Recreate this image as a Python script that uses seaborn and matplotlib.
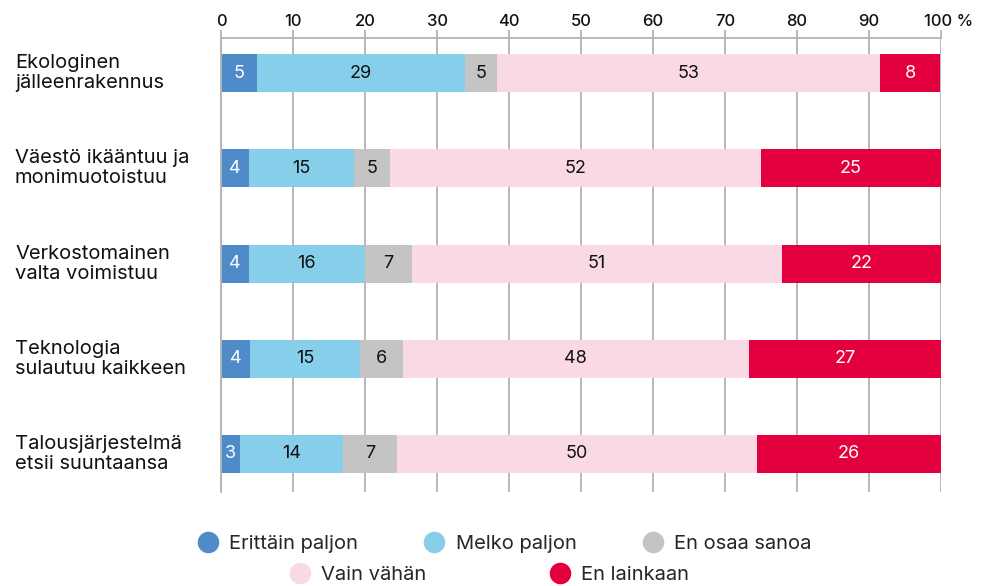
import matplotlib.pyplot as plt
import matplotlib.transforms as mtrans
from matplotlib.lines import Line2D
import pandas as pd
import seaborn as sns

sns.set_style("white")
plt.rcParams['font.family'] = ['Inter', 'DejaVu Sans']

kategoriat = ["Ekologinen\njälleenrakennus",
              "Väestö ikääntuu ja\nmonimuotoistuu",
              "Verkostomainen\nvalta voimistuu",
              "Teknologia\nsulautuu kaikkeen",
              "Talousjärjestelmä\netsii suuntaansa"]
sarjat = ["Erittäin paljon", "Melko paljon", "En osaa sanoa", "Vain vähän", "En lainkaan"]

# bar lengths (%)
erittain_paljon = [5.0, 3.85, 3.85, 4.0, 2.64]
melko_paljon = [28.85, 14.58, 16.1, 15.28, 14.3]
en_osaa_sanoa = [4.44, 5.0, 6.53, 5.97, 7.5]
vain_vahan = [53.3, 51.5, 51.4, 48.06, 50.0]
en_lainkaan = [8.33, 25.0, 22.08, 26.67, 25.56]

# printed numbers inside the bars
lab_erittain = [5, 4, 4, 4, 3]
lab_melko = [29, 15, 16, 15, 14]
lab_en_osaa = [5, 5, 7, 6, 7]
lab_vain = [53, 52, 51, 48, 50]
lab_lainkaan = [8, 25, 22, 27, 26]

xticks = [0, 10, 20, 30, 40, 50, 60, 70, 80, 90, 100]
xtick_labels = ["0", "10", "20", "30", "40", "50", "60", "70", "80", "90", "100 %"]

cores = {"Erittäin paljon": "#4f8bc9", "Melko paljon": "#87ceeb", "En osaa sanoa": "#c4c4c4",
         "Vain vähän": "#f9d9e3", "En lainkaan": "#e4003f"}
cor_texto = {"Erittäin paljon": "white", "Melko paljon": "#111111", "En osaa sanoa": "#111111",
             "Vain vähän": "#111111", "En lainkaan": "white"}

df = pd.DataFrame({
    "Erittäin paljon": erittain_paljon,
    "Melko paljon": melko_paljon,
    "En osaa sanoa": en_osaa_sanoa,
    "Vain vähän": vain_vahan,
    "En lainkaan": en_lainkaan,
}, index=kategoriat)
df_lab = pd.DataFrame({
    "Erittäin paljon": lab_erittain,
    "Melko paljon": lab_melko,
    "En osaa sanoa": lab_en_osaa,
    "Vain vähän": lab_vain,
    "En lainkaan": lab_lainkaan,
}, index=kategoriat)
cum = df.cumsum(axis=1)

fig, ax = plt.subplots(figsize=(9.92, 5.86), dpi=100)
fig.subplots_adjust(left=0.2228, right=0.9486, top=0.9352, bottom=0.1604)

# stacked bars: draw cumulative totals from the longest to the shortest
for s in reversed(sarjat):
    sns.barplot(x=cum[s].values, y=kategoriat, color=cores[s], orient='h', width=0.4,
                saturation=1, linewidth=0, ax=ax, zorder=2)

for i, cat in enumerate(kategoriat):
    for s in sarjat:
        centro = cum.loc[cat, s] - df.loc[cat, s] / 2
        ax.text(centro, i, str(df_lab.loc[cat, s]), ha='center', va='center',
                fontsize=13, color=cor_texto[s], zorder=3)

cinza = '#b3b3b3'
ax.set_xlim(0, 100)
ax.set_ylim(4.4, -0.37)
ax.set_xticks(xticks)
ax.set_xticklabels(xtick_labels, fontsize=12, fontweight='medium', color='#111111')
ax.xaxis.tick_top()
ax.tick_params(axis='x', top=True, bottom=False, length=6, width=1.3, color=cinza, pad=0.5)
ax.set_yticks([])
ax.set_xlabel('')
ax.set_ylabel('')
ax.grid(axis='x', color=cinza, lw=1.3, zorder=0)
ax.grid(axis='y', visible=False)
ax.set_axisbelow(True)
for lado in ['right', 'bottom']:
    ax.spines[lado].set_visible(False)
for lado in ['top', 'left']:
    ax.spines[lado].set_color(cinza)
    ax.spines[lado].set_linewidth(1.3)

# nudge "100 %" so the number sits over the line
ultimo = ax.get_xticklabels()[-1]
ultimo.set_transform(ultimo.get_transform() + mtrans.ScaledTranslation(8 / 100, 0, fig.dpi_scale_trans))

# category names left-aligned at the figure edge
trans = mtrans.blended_transform_factory(fig.transFigure, ax.transData)
for i, cat in enumerate(kategoriat):
    ax.text(15 / 992, i, cat, transform=trans, ha='left', va='center', fontsize=14.5,
            linespacing=1.15, color='#111111')

handles = [Line2D([], [], marker='o', ls='', markersize=14.5, markerfacecolor=cores[s],
                  markeredgecolor=cores[s]) for s in sarjat]
fig.legend(handles[:3], sarjat[:3], loc='center', bbox_to_anchor=(0.5086, 0.0717), ncol=3,
           frameon=False, fontsize=14.5, columnspacing=3.3, handletextpad=0.55, handlelength=1,
           borderpad=0, borderaxespad=0)
fig.legend(handles[3:], sarjat[3:], loc='center', bbox_to_anchor=(0.4934, 0.0188), ncol=2,
           frameon=False, fontsize=14.5, columnspacing=6.1, handletextpad=0.55, handlelength=1,
           borderpad=0, borderaxespad=0)

plt.savefig('out.png', dpi=100)
